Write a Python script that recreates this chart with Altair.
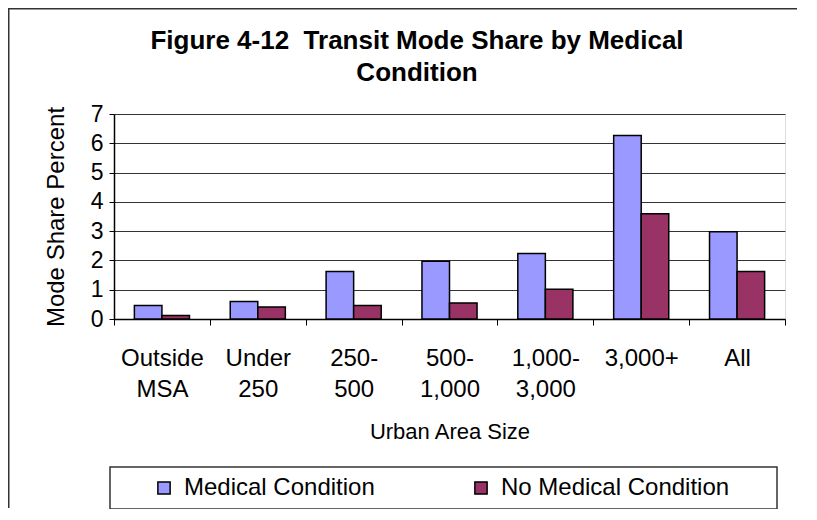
import altair as alt
import pandas as pd

categories = ["Outside MSA", "Under 250", "250-500", "500-1,000", "1,000-3,000", "3,000+", "All"]
category_lines = [["Outside", "MSA"], ["Under", "250"], ["250-", "500"], ["500-", "1,000"],
                  ["1,000-", "3,000"], ["3,000+"], ["All"]]
series = ["Medical Condition", "No Medical Condition"]
medical = [0.46, 0.60, 1.62, 1.97, 2.24, 6.27, 2.98]
no_medical = [0.12, 0.41, 0.46, 0.55, 1.02, 3.59, 1.62]
colors = ["#9999FF", "#993366"]
y_ticks = [0, 1, 2, 3, 4, 5, 6, 7]
title_lines = ["Figure 4-12\u00a0 Transit Mode Share by Medical", "Condition"]

rows = []
for c, m, n in zip(categories, medical, no_medical):
    rows.append({"size": c, "series": series[0], "share": m})
    rows.append({"size": c, "series": series[1], "share": n})
df = pd.DataFrame(rows)

def arr(lines):
    return "[" + ",".join("'" + s + "'" for s in lines) + "]"

label_expr = ""
for c, lines in zip(categories, category_lines):
    label_expr += f"datum.value == '{c}' ? {arr(lines)} : "
label_expr += "datum.value"

FONT = "Liberation Sans"

bars = alt.Chart(df).mark_bar(stroke="black", strokeWidth=1.5).encode(
    x=alt.X("size:N", sort=categories,
            scale=alt.Scale(paddingInner=0, paddingOuter=0),
            axis=alt.Axis(title="Urban Area Size", labelAngle=0, labelExpr=label_expr,
                          labelFontSize=24, labelFont=FONT, labelColor="black",
                          labelLineHeight=31, labelPadding=21, labelBaseline="top",
                          tickBand="extent", tickSize=6, tickColor="black", tickWidth=1,
                          domainColor="black", domainWidth=1.5, grid=False,
                          titleFontSize=22, titleFont=FONT, titleFontWeight="normal",
                          titleColor="black", titlePadding=20)),
    xOffset=alt.XOffset("series:N", sort=series,
                        scale=alt.Scale(paddingInner=0, paddingOuter=0.74)),
    y=alt.Y("share:Q", scale=alt.Scale(domain=[0, 7], nice=False),
            axis=alt.Axis(title="Mode Share Percent", values=y_ticks, format="d",
                          labelFontSize=23, labelFont=FONT, labelColor="black",
                          labelPadding=6, tickSize=5, tickColor="black",
                          domainColor="black", domainWidth=1.5,
                          grid=True, gridColor="#333333", gridWidth=1,
                          titleFontSize=24, titleFont=FONT, titleFontWeight="normal",
                          titleColor="black", titlePadding=22)),
    color=alt.Color("series:N", sort=series,
                    scale=alt.Scale(domain=series, range=colors),
                    legend=alt.Legend(title=None, orient="none", direction="horizontal",
                                      legendX=38, legendY=362, labelLimit=400,
                                      labelFontSize=24, labelFont=FONT, labelColor="black",
                                      symbolType="square", symbolSize=150,
                                      symbolStrokeColor="black", symbolStrokeWidth=1.5,
                                      labelOffset=8, columnPadding=94, padding=0)),
)

one = pd.DataFrame({"a": [0]})
frame_left = alt.Chart(one).mark_rule(color="#333333", strokeWidth=2).encode(
    x=alt.value(-105.5), y=alt.value(-106), y2=alt.value(394))
frame_top = alt.Chart(one).mark_rule(color="#333333", strokeWidth=2).encode(
    x=alt.value(-106), x2=alt.value(683), y=alt.value(-105.5))
legend_box = alt.Chart(one).mark_rect(fill="white", fillOpacity=0, stroke="#333333",
                                      strokeWidth=1.5).encode(
    x=alt.value(-4), x2=alt.value(663), y=alt.value(353), y2=alt.value(395))
title = alt.Chart(one).mark_text(fontSize=26, font=FONT, fontWeight="bold", color="black",
                                 align="center", baseline="middle", lineHeight=32).encode(
    x=alt.value(303), y=alt.value(-73), text=alt.value(title_lines))

chart = alt.layer(frame_left, frame_top, legend_box, title, bars).properties(
    width=671, height=205,
    autosize=alt.AutoSizeParams(type="none"),
    padding={"left": 106, "top": 106, "right": 12, "bottom": 190},
).configure_view(stroke="#333333", strokeWidth=1.5).configure(background="white")

chart.save("out.html", embed_options={"renderer": "svg", "actions": False})
